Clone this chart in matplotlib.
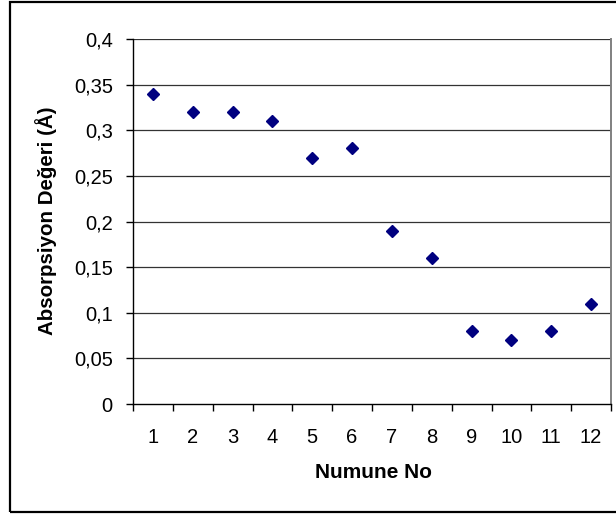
import matplotlib
matplotlib.use("Agg")
import matplotlib.pyplot as plt
from matplotlib.patches import Rectangle
from matplotlib.ticker import FixedLocator, FuncFormatter

plt.rcParams['font.family'] = ['Liberation Sans', 'DejaVu Sans']

samples = [1, 2, 3, 4, 5, 6, 7, 8, 9, 10, 11, 12]
absorbance = [0.34, 0.32, 0.32, 0.31, 0.27, 0.28, 0.19, 0.16, 0.08, 0.07, 0.08, 0.11]
y_ticks = [0, 0.05, 0.1, 0.15, 0.2, 0.25, 0.3, 0.35, 0.4]
x_label = "Numune No"
y_label = "Absorpsiyon Değeri (Å)"

W, H = 616, 515
fig = plt.figure(figsize=(W / 100, H / 100), dpi=100)

# outer chart border
fig.patches.append(Rectangle((10 / W, 3 / H), 1.0, 510 / H, transform=fig.transFigure,
                             fill=False, edgecolor='black', linewidth=1.6))

ax = fig.add_axes([133 / W, 1 - 404 / H, 478 / W, 365 / H])

ax.plot(samples, absorbance, linestyle='none', marker='D', markersize=5.8,
        color='#000080', markeredgecolor='#000080', zorder=3)

ax.set_xlim(0.5, len(samples) + 0.5)
ax.set_ylim(0, 0.4)

# horizontal gridlines
ax.yaxis.set_major_locator(FixedLocator(y_ticks))
for v in y_ticks[1:]:
    ax.axhline(v, color='#333333', linewidth=0.9, zorder=1)

def comma_fmt(v, pos):
    s = f"{v:.2f}".rstrip('0').rstrip('.')
    return s.replace('.', ',')

ax.yaxis.set_major_formatter(FuncFormatter(comma_fmt))

# category boundaries as major ticks, labels on centres
ax.xaxis.set_major_locator(FixedLocator([i + 0.5 for i in range(0, len(samples) + 1)]))
ax.xaxis.set_minor_locator(FixedLocator(samples))
ax.xaxis.set_major_formatter(FuncFormatter(lambda v, p: ""))
ax.xaxis.set_minor_formatter(FuncFormatter(lambda v, p: str(int(round(v)))))

ax.tick_params(axis='x', which='major', direction='out', length=4.7, width=1.0, color='black')
ax.tick_params(axis='x', which='minor', length=0, pad=17, labelsize=14.5)
ax.tick_params(axis='y', direction='out', length=5, width=1.0, pad=9.5, labelsize=14.5)

for side in ('left', 'bottom'):
    ax.spines[side].set_color('black')
    ax.spines[side].set_linewidth(1.0)
ax.spines['top'].set_visible(False)
ax.spines['right'].set_color('#808080')
ax.spines['right'].set_linewidth(1.4)

ax.set_xlabel(x_label, fontsize=15, fontweight='bold')
ax.set_ylabel(y_label, fontsize=14.8, fontweight='bold')
ax.xaxis.set_label_coords(373 / W, 1 - 472 / H, transform=fig.transFigure)
ax.xaxis.label.set_va('center')
ax.yaxis.set_label_coords(46 / W, 1 - 221 / H, transform=fig.transFigure)
ax.yaxis.label.set_va('center')

fig.savefig("out.png", dpi=100)
